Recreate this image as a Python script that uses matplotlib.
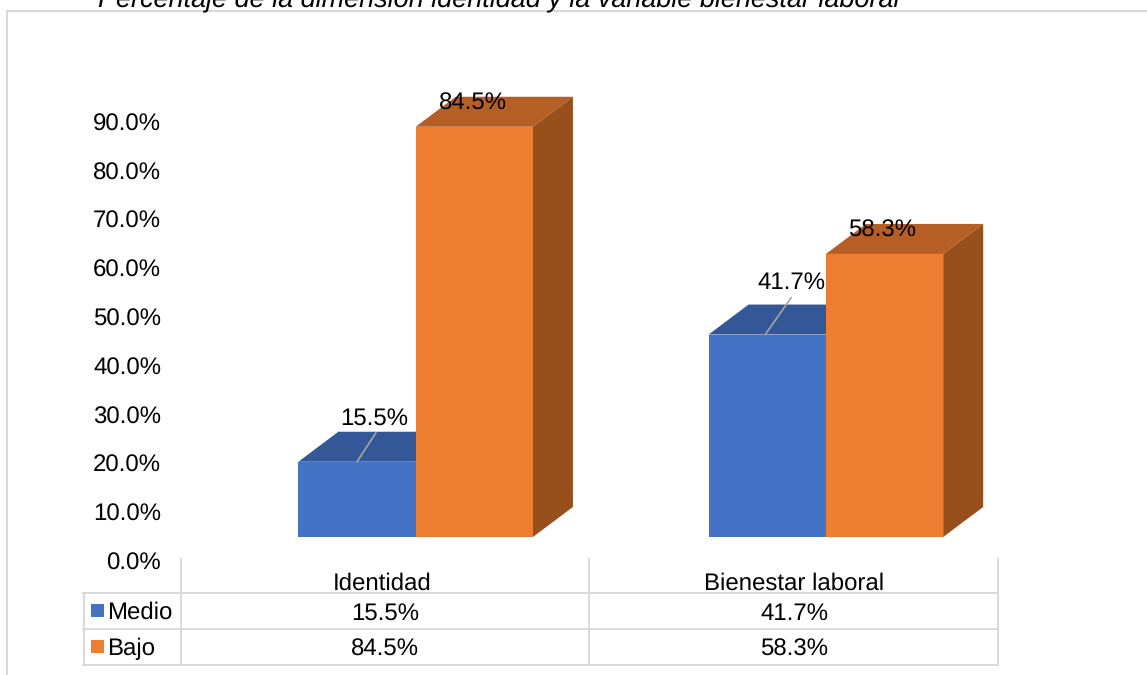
import matplotlib
matplotlib.use("Agg")
import matplotlib.pyplot as plt
from matplotlib.patches import Polygon, Rectangle

plt.rcParams['font.family'] = ['Liberation Sans', 'DejaVu Sans']
plt.rcParams['text.hinting'] = 'none'
plt.rcParams['text.hinting_factor'] = 1

# ---- data ----
categories = ["Identidad", "Bienestar laboral"]
series_names = ["Medio", "Bajo"]
medio = [15.5, 41.7]
bajo = [84.5, 58.3]
y_ticks = [0, 10, 20, 30, 40, 50, 60, 70, 80, 90]
title = "Percentaje de la dimensión identidad y la variable bienestar laboral"

# ---- styles ----
W, H = 1147, 675
BLUE, BLUE_TOP = "#4472C4", "#345797"
ORANGE, ORANGE_TOP, ORANGE_SIDE = "#ED7D31", "#B65F25", "#974F1C"
GRID = "#D9D9D9"
FS = 17.5

fig = plt.figure(figsize=(W / 100, H / 100), dpi=100, facecolor="white")


def axes_px(left, top, right, bottom):
    return fig.add_axes([left / W, 1 - bottom / H, (right - left) / W, (bottom - top) / H])


# overlay in pixel space for frame and data table
ov = axes_px(0, 0, W, H)
ov.set_xlim(0, W)
ov.set_ylim(H, 0)
ov.axis("off")
ov.plot([7, 7, W], [H, 11, 11], color=GRID, lw=1.5, solid_joinstyle="miter")
for x in (181, 589, 998):
    ov.plot([x, x], [559, 665], color=GRID, lw=1.4)
ov.plot([83.5, 83.5], [593, 665], color=GRID, lw=1.4)
for y in (593, 629, 665):
    ov.plot([83, 998], [y, y], color=GRID, lw=1.4)
ov.text(499, 0, title, fontsize=19.1, style="italic", ha="center", va="center", color="black", clip_on=False)

centers = [385, 794]
for cx, cat, m, b in zip(centers, categories, medio, bajo):
    ov.text(cx - (3 if cx == 385 else 0), 581, cat, fontsize=FS, ha="center", va="center_baseline")
    ov.text(cx, 611, f"{m:.1f}%", fontsize=FS, ha="center", va="center_baseline")
    ov.text(cx, 647, f"{b:.1f}%", fontsize=FS, ha="center", va="center_baseline")
for name, col, y in zip(series_names, (BLUE, ORANGE), (611, 647)):
    ov.add_patch(Rectangle((91, y - 7), 13, 13, color=col, lw=0))
    ov.text(107.5, y - 1, name, fontsize=FS, ha="left", va="center_baseline")

# value axis labels
axt = axes_px(161, 561 - 487.8, 170, 561)
axt.set_ylim(0, 100)
axt.set_xticks([])
axt.set_yticks(y_ticks)
axt.set_yticklabels([f"{v:.1f}%" for v in y_ticks], fontsize=FS)
axt.tick_params(axis="y", length=0, pad=0)
axt.patch.set_alpha(0)
for s in axt.spines.values():
    s.set_visible(False)

# bars
ax = axes_px(210.5, 537 - 485.5, 1031, 537)
ax.set_xlim(-0.5, 1.5)
ax.set_ylim(0, 100)
ax.axis("off")
ax.patch.set_alpha(0)

bw = 117.3 / 410.25
DX = 40 / 410.25
DY = 30 / 4.855

positions = list(range(len(categories)))


def box(xl, v, front, top, side, z):
    ax.bar(xl, v, width=bw, align="edge", color=front, lw=0, zorder=z + 0.2)
    xr = xl + bw
    ax.add_patch(Polygon([(xl, v), (xr, v), (xr + DX, v + DY), (xl + DX, v + DY)],
                         closed=True, fc=top, ec="none", zorder=z, clip_on=False))
    if side is not None:
        ax.add_patch(Polygon([(xr, 0), (xr + DX, DY), (xr + DX, v + DY), (xr, v)],
                             closed=True, fc=side, ec="none", zorder=z, clip_on=False))


for i in positions:
    box(i - bw, medio[i], BLUE, BLUE_TOP, None, 1)
    box(i, bajo[i], ORANGE, ORANGE_TOP, ORANGE_SIDE, 2)

# data labels
for i, (m, b) in enumerate(zip(medio, bajo)):
    lbl_dx, lbl_dy = (17, 46) if i == 0 else (24, 54)
    foot_dx = 0 if i == 0 else -2
    tip = (19, 29) if i == 0 else (26, 37)
    xm = i - bw / 2
    ax.annotate(f"{m:.1f}%", xy=(xm, m), xytext=(lbl_dx, lbl_dy), textcoords="offset pixels",
                fontsize=FS, ha="center", va="center_baseline", zorder=6)
    ax.annotate("", xy=(xm + foot_dx / 410.25, m), xytext=tip, textcoords="offset pixels",
                arrowprops=dict(arrowstyle="-", color="#A6A6A6", lw=1.2, shrinkA=0, shrinkB=0), zorder=5)
    ax.annotate(f"{b:.1f}%", xy=(i + bw / 2, b), xytext=(-1 if i == 0 else -2, 26),
                textcoords="offset pixels", fontsize=FS, ha="center", va="center_baseline", zorder=6)

fig.savefig("out.png", dpi=100)
